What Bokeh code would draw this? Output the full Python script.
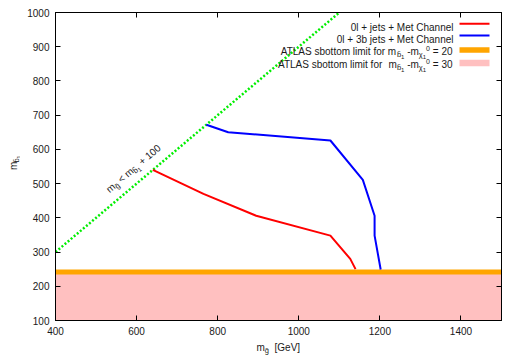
import math
from bokeh.plotting import figure
from bokeh.models import Label, LinearAxis, FixedTicker, Range1d
from bokeh.layouts import row, column
from bokeh.embed import file_html
from bokeh.resources import INLINE

# ---------------- data ----------------
x_lim = [400, 1500]
y_lim = [100, 1000]
x_ticks = [400, 600, 800, 1000, 1200, 1400]
y_ticks = [100, 200, 300, 400, 500, 600, 700, 800, 900, 1000]

# 0l + jets + Met channel (red)
red_gluino = [640, 765, 895, 1078, 1127, 1140]
red_sbottom = [540, 470, 406, 348, 280, 250]

# 0l + 3b jets + Met channel (blue)
blue_gluino = [772, 826, 1078, 1158, 1187, 1187, 1202]
blue_sbottom = [672, 650, 626, 511, 406, 348, 249]

# kinematic limit m_gluino = m_sbottom + 100
mass_gap = 100
diag_gluino = [400, 1100]

# ATLAS sbottom limits
atlas_dm20 = 242
atlas_dm30 = 240

# ---------------- layout (page pixel coordinates) ----------------
TOT_W, TOT_H = 511, 355
LW = 20            # left strip (y-axis title)
BH = 15            # bottom strip (x-axis title)
W, H = TOT_W - LW, TOT_H - BH
BL, BR, BT, BB = 35, 10, 12, 20
FX0, FX1 = LW + BL, LW + W - BR
FY0, FY1 = BT, H - BB
FONT = "Liberation Sans"
TXT = "#1a1a1a"


def main_xy(px, py):
    x = x_lim[0] + (px - FX0) / (FX1 - FX0) * (x_lim[1] - x_lim[0])
    y = y_lim[1] - (py - FY0) / (FY1 - FY0) * (y_lim[1] - y_lim[0])
    return x, y


def left_xy(px, py):
    return px, H - py


def bottom_xy(px, py):
    return px, TOT_H - py


def X(px):
    return main_xy(px, FY0)[0]


def Y(py):
    return main_xy(FX0, py)[1]


p = figure(width=W, height=H, x_range=Range1d(*x_lim), y_range=Range1d(*y_lim),
           output_backend="svg", toolbar_location=None,
           min_border_left=BL, min_border_right=BR, min_border_top=BT, min_border_bottom=BB)
p.grid.visible = False
p.outline_line_color = "black"
p.outline_line_width = 1


def strip(w, h):
    f = figure(width=w, height=h, x_range=Range1d(0, w), y_range=Range1d(0, h),
               output_backend="svg", toolbar_location=None,
               x_axis_location=None, y_axis_location=None,
               min_border=0, min_border_left=0, min_border_right=0,
               min_border_top=0, min_border_bottom=0)
    f.grid.visible = False
    f.outline_line_color = None
    return f


p_left = strip(LW, H)
p_bottom = strip(TOT_W, BH)


def style_axis(ax, ticks, labels=True):
    ax.ticker = FixedTicker(ticks=ticks)
    ax.major_tick_in = 5
    ax.major_tick_out = 0
    ax.minor_tick_line_color = None
    ax.axis_line_color = "black"
    ax.major_tick_line_color = "black"
    ax.major_label_text_font = FONT
    ax.major_label_text_color = TXT
    ax.major_label_text_font_size = "10px"
    ax.major_label_standoff = 6
    if not labels:
        ax.major_label_overrides = {t: "" for t in ticks}
        ax.major_label_text_font_size = "0px"
        ax.major_label_standoff = 0


style_axis(p.xaxis[0], x_ticks)
style_axis(p.yaxis[0], y_ticks)
top = LinearAxis()
right = LinearAxis()
style_axis(top, x_ticks, labels=False)
style_axis(right, y_ticks, labels=False)
p.add_layout(top, "above")
p.add_layout(right, "right")

# ---------------- glyphs ----------------
p.varea(x=x_lim, y1=[y_lim[0]] * 2, y2=[atlas_dm30] * 2, color="#ffc0c0")
p.line(x_lim, [atlas_dm20] * 2, line_width=5, color="#ffa500")
p.line(diag_gluino, [g - mass_gap for g in diag_gluino], line_width=2.5,
       color="#00ee00", line_dash="2 2")
p.line(red_gluino, red_sbottom, line_width=2, color="#ff0000")
p.line(blue_gluino, blue_sbottom, line_width=2, color="#0000ff")

# ---------------- rich text helper ----------------
CW = {' ': 278, '+': 584, '-': 333, '=': 584, '<': 584, '[': 278, ']': 278,
      'A': 667, 'C': 722, 'G': 778, 'L': 556, 'M': 833, 'S': 667, 'T': 611, 'V': 667,
      'a': 556, 'b': 556, 'e': 556, 'f': 278, 'g': 556, 'h': 556, 'i': 222, 'j': 222,
      'l': 222, 'm': 833, 'n': 556, 'o': 556, 'r': 333, 's': 500, 't': 278,
      '\u0303': 0, '\u03c7': 520}
STY = {'n': (10, 0.0), 's': (7.5, 3.0), 'ss': (6, 5.0), 'p': (7, -3.5)}


def tw(s, size):
    return sum(CW.get(c, 556) for c in s) * size / 1000.0


def rich(fig, conv, pieces, sx, sy, align="left", angle_deg=0.0):
    widths = [tw(t, STY[k][0]) for t, k in pieces]
    total = sum(widths)
    th = math.radians(angle_deg)
    u = (math.cos(th), -math.sin(th))
    v = (math.sin(th), math.cos(th))
    dx = 0.0
    if align == "right":
        dx = -total
    elif align == "center":
        dx = -total / 2
    for (t, k), w in zip(pieces, widths):
        size, dy = STY[k]
        lead = len(t) - len(t.lstrip(" "))
        d0 = dx + tw(" " * lead, size)
        px = sx + d0 * u[0] + dy * v[0]
        py = sy + d0 * u[1] + dy * v[1]
        x, y = conv(px, py)
        fig.add_layout(Label(x=x, y=y, text=t.strip(" "), angle=th, text_font=FONT,
                             text_font_size=f"{size}px", text_color=TXT,
                             text_align="left", text_baseline="alphabetic"))
        dx += w


# axis titles
rich(p_bottom, bottom_xy, [("m", "n"), ("g\u0303", "s"), ("  [GeV]", "n")], 256, 347)
rich(p_left, left_xy, [("m", "n"), ("b\u0303", "s"), ("1", "ss")], 13, 174, angle_deg=90)

# kinematic-limit label along the diagonal
rich(p, main_xy, [("m", "n"), ("g\u0303", "s"), (" < m", "n"), ("b\u0303", "s"), ("1", "ss"),
                  (" + 100", "n")], 107, 190, angle_deg=40.4)

# ---------------- legend ----------------
LX = 452
rich(p, main_xy, [("0l + jets + Met Channel", "n")], LX + 1, 26.5, align="right")
rich(p, main_xy, [("0l + 3b jets + Met Channel", "n")], LX + 1, 38.5, align="right")
rich(p, main_xy, [("ATLAS sbottom limit for m", "n"), ("b\u0303", "s"), ("1", "ss"), (" -m", "n"),
                  ("\u03c7", "s"), ("1", "ss"), ("0", "p"), (" = 20", "n")], LX, 51, align="right")
rich(p, main_xy, [("ATLAS sbottom limit for", "n"), ("  m", "n"), ("b\u0303", "s"), ("1", "ss"),
                  (" -m", "n"), ("\u03c7", "s"), ("1", "ss"), ("0", "p"), (" = 30", "n")],
     LX, 64, align="right")

p.line([X(459), X(489)], [Y(23.3)] * 2, line_width=2, color="#ff0000")
p.line([X(459), X(489)], [Y(35)] * 2, line_width=2, color="#0000ff")
p.quad(left=X(459), right=X(489), bottom=Y(52.3), top=Y(46.7), color="#ffa500", line_width=0)
p.quad(left=X(459), right=X(489), bottom=Y(65.7), top=Y(59.3), color="#ffc0c0", line_width=0)

layout = column(row(p_left, p), p_bottom)
open("out.html", "w").write(file_html(layout, INLINE))
